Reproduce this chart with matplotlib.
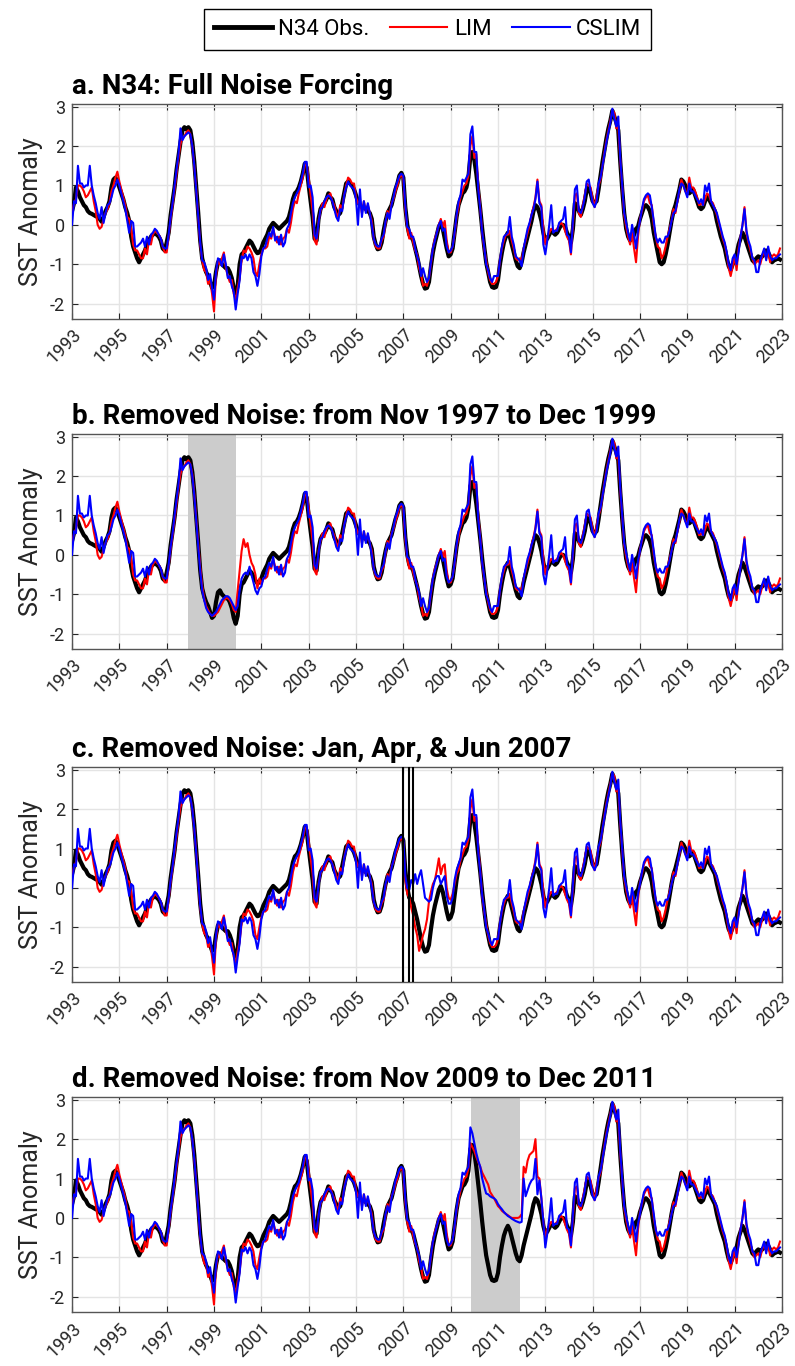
import numpy as np
import matplotlib
matplotlib.use("Agg")
import matplotlib.pyplot as plt
from matplotlib.lines import Line2D

plt.rcParams['font.family'] = ['Roboto', 'DejaVu Sans']

START_YEAR = 1993

# ---------------- Observed Nino3.4 (monthly, one row per year 1993..2022) ----------------
OBS_ROWS = [
    [0.35, 0.55, 0.95, 0.85, 0.70, 0.60, 0.50, 0.45, 0.35, 0.30, 0.28, 0.25],
    [0.22, 0.20, 0.15, 0.08, 0.20, 0.35, 0.45, 0.60, 0.95, 1.15, 1.20, 1.10],
    [0.95, 0.80, 0.65, 0.45, 0.30, 0.10, -0.30, -0.55, -0.70, -0.85, -0.95, -0.85],
    [-0.75, -0.65, -0.50, -0.40, -0.30, -0.25, -0.20, -0.25, -0.30, -0.40, -0.60, -0.65],
    [-0.45, -0.20, 0.25, 0.60, 0.95, 1.40, 1.75, 2.10, 2.40, 2.48, 2.42, 2.48],
    [2.40, 2.10, 1.60, 0.95, 0.30, -0.40, -0.85, -1.05, -1.20, -1.30, -1.45, -1.60],
    [-1.55, -1.20, -0.95, -0.90, -1.00, -1.05, -1.10, -1.10, -1.20, -1.35, -1.60, -1.75],
    [-1.55, -1.00, -0.75, -0.70, -0.60, -0.50, -0.40, -0.45, -0.55, -0.65, -0.72, -0.70],
    [-0.60, -0.45, -0.35, -0.25, -0.10, -0.02, 0.05, 0.00, -0.05, -0.10, -0.05, 0.00],
    [0.05, 0.10, 0.20, 0.40, 0.65, 0.80, 0.85, 0.95, 1.10, 1.30, 1.55, 1.45],
    [1.00, 0.60, 0.20, -0.35, -0.40, 0.15, 0.40, 0.50, 0.55, 0.65, 0.80, 0.70],
    [0.65, 0.45, 0.35, 0.25, 0.30, 0.55, 0.80, 1.05, 1.10, 1.05, 1.00, 0.90],
    [0.75, 0.60, 0.50, 0.45, 0.45, 0.40, 0.35, 0.30, 0.15, -0.30, -0.50, -0.62],
    [-0.60, -0.45, -0.15, 0.10, 0.30, 0.40, 0.50, 0.70, 0.90, 1.05, 1.25, 1.32],
    [1.20, 0.45, 0.00, -0.25, -0.30, -0.40, -0.60, -0.80, -1.05, -1.30, -1.50, -1.62],
    [-1.60, -1.45, -1.05, -0.70, -0.45, -0.25, -0.05, 0.05, -0.10, -0.35, -0.60, -0.80],
    [-0.75, -0.60, -0.20, 0.20, 0.50, 0.65, 0.80, 0.85, 0.95, 1.20, 1.75, 1.85],
    [1.65, 1.30, 0.85, 0.40, -0.10, -0.55, -0.95, -1.20, -1.45, -1.58, -1.60, -1.58],
    [-1.40, -1.00, -0.70, -0.45, -0.30, -0.20, -0.30, -0.50, -0.70, -0.90, -1.05, -1.10],
    [-0.95, -0.70, -0.50, -0.30, -0.10, 0.10, 0.35, 0.50, 0.45, 0.30, 0.10, -0.20],
    [-0.40, -0.35, -0.25, -0.15, -0.20, -0.25, -0.20, -0.10, 0.00, 0.00, -0.05, -0.20],
    [-0.30, -0.45, -0.10, 0.55, 0.50, 0.35, 0.25, 0.40, 0.60, 0.90, 0.95, 0.80],
    [0.60, 0.55, 0.60, 0.90, 1.25, 1.60, 1.90, 2.20, 2.45, 2.65, 2.90, 2.75],
    [2.60, 2.40, 1.60, 0.90, 0.30, -0.10, -0.30, -0.40, -0.35, -0.25, -0.10, -0.05],
    [0.15, 0.30, 0.45, 0.50, 0.45, 0.35, 0.15, -0.20, -0.45, -0.70, -0.95, -1.00],
    [-0.95, -0.75, -0.50, -0.20, 0.10, 0.35, 0.50, 0.70, 0.90, 1.15, 1.10, 1.00],
    [0.90, 0.80, 0.85, 0.90, 0.75, 0.60, 0.45, 0.40, 0.45, 0.60, 0.72, 0.65],
    [0.55, 0.45, 0.35, 0.10, -0.10, -0.30, -0.45, -0.60, -0.85, -1.05, -1.15, -1.00],
    [-0.90, -0.75, -0.50, -0.35, -0.20, -0.30, -0.45, -0.60, -0.75, -0.90, -0.95, -0.85],
    [-0.80, -0.85, -0.80, -0.75, -0.65, -0.70, -0.80, -0.95, -0.90, -0.88, -0.85, -0.88],
]

# ---------------- LIM with full noise forcing ----------------
LIM_ROWS = [
    [0.30, 0.55, 0.65, 1.00, 1.00, 0.95, 0.85, 0.70, 0.75, 0.85, 0.95, 0.60],
    [0.35, 0.00, -0.10, -0.05, 0.15, 0.30, 0.40, 0.55, 0.85, 1.00, 1.20, 1.35],
    [1.10, 0.90, 0.70, 0.50, 0.20, 0.15, -0.10, -0.50, -0.65, -0.65, -0.75, -0.85],
    [-0.85, -0.60, -0.75, -0.40, -0.50, -0.25, -0.15, -0.20, -0.25, -0.35, -0.55, -0.70],
    [-0.70, -0.30, 0.15, 0.50, 0.90, 1.30, 1.70, 2.05, 2.20, 2.25, 2.35, 2.40],
    [2.30, 2.00, 1.50, 0.90, 0.20, -0.50, -0.90, -1.15, -1.20, -1.50, -1.40, -1.75],
    [-2.20, -1.30, -0.90, -1.00, -0.85, -0.70, -1.10, -1.30, -1.45, -1.40, -1.75, -1.90],
    [-1.60, -1.35, -0.90, -0.65, -0.70, -0.55, -0.60, -0.70, -0.85, -1.20, -1.30, -1.00],
    [-0.75, -0.60, -0.60, -0.55, -0.30, -0.35, -0.10, -0.30, -0.45, -0.30, -0.50, -0.35],
    [-0.30, -0.10, -0.20, 0.05, 0.40, 0.60, 0.55, 0.80, 1.00, 1.20, 1.50, 1.55],
    [1.20, 0.75, 0.35, -0.40, -0.50, 0.10, 0.35, 0.55, 0.45, 0.65, 0.75, 0.80],
    [0.60, 0.50, 0.30, 0.20, 0.50, 0.40, 0.75, 1.00, 1.20, 1.15, 1.05, 1.05],
    [0.70, 0.55, 0.60, 0.30, 0.60, 0.35, 0.50, 0.30, 0.10, -0.35, -0.55, -0.60],
    [-0.60, -0.40, -0.30, 0.05, 0.35, 0.25, 0.55, 0.65, 0.85, 1.00, 1.20, 1.28],
    [1.15, 0.40, -0.10, -0.35, -0.20, -0.45, -0.65, -0.75, -1.10, -1.25, -1.55, -1.50],
    [-1.55, -1.35, -1.00, -0.60, -0.35, -0.20, 0.00, 0.15, -0.05, 0.10, -0.40, -0.70],
    [-0.70, -0.55, -0.25, 0.20, 0.45, 0.70, 0.85, 1.00, 1.05, 1.25, 2.00, 2.25],
    [1.70, 1.80, 1.00, 0.45, -0.20, -0.60, -0.90, -1.20, -1.40, -1.50, -1.50, -1.45],
    [-1.30, -0.90, -0.60, -0.40, -0.25, -0.25, -0.15, -0.40, -0.60, -0.85, -0.90, -0.85],
    [-0.90, -0.60, -0.40, -0.20, 0.00, 0.25, 0.45, 0.70, 1.15, 0.60, 0.50, -0.10],
    [-0.50, -0.30, -0.20, -0.10, -0.15, -0.15, -0.10, 0.00, 0.05, 0.00, -0.15, -0.30],
    [-0.40, -0.75, 0.00, 0.75, 0.80, 0.30, 0.20, 0.50, 0.75, 1.05, 1.00, 0.95],
    [0.65, 0.45, 0.75, 1.00, 1.15, 1.50, 1.85, 2.15, 2.40, 2.65, 2.90, 2.85],
    [2.45, 2.50, 1.65, 0.95, 0.25, -0.05, -0.30, -0.50, -0.20, -0.60, -0.95, -0.30],
    [0.15, 0.35, 0.60, 0.70, 0.75, 0.55, 0.50, 0.00, -0.30, -0.55, -0.60, -0.85],
    [-0.75, -0.55, -0.30, -0.10, 0.10, 0.40, 0.30, 0.60, 0.85, 1.15, 1.00, 0.85],
    [0.80, 1.20, 0.95, 0.95, 0.85, 0.70, 0.50, 0.55, 0.50, 0.65, 0.80, 0.75],
    [0.60, 0.55, 0.40, 0.25, 0.05, -0.15, -0.35, -0.50, -0.75, -1.10, -1.30, -1.05],
    [-0.80, -1.15, -0.60, -0.30, 0.00, 0.45, -0.20, -0.45, -0.65, -0.85, -1.00, -0.95],
    [-0.90, -1.00, -0.80, -0.65, -0.85, -0.70, -0.95, -0.80, -0.75, -0.80, -0.75, -0.60],
]

# ---------------- CSLIM with full noise forcing ----------------
CSLIM_ROWS = [
    [0.00, 0.60, 0.55, 1.50, 1.05, 1.05, 0.95, 1.00, 1.00, 1.50, 1.00, 0.75],
    [0.55, 0.30, 0.15, 0.45, 0.05, 0.30, 0.50, 0.55, 0.70, 0.90, 1.00, 1.15],
    [1.00, 0.80, 0.60, 0.40, 0.10, -0.20, 0.10, 0.05, -0.55, -0.55, -0.50, -0.45],
    [-0.35, -0.55, -0.30, -0.50, -0.25, -0.20, -0.10, -0.15, -0.25, -0.35, -0.55, -0.60],
    [-0.60, -0.25, 0.20, 0.55, 1.00, 1.40, 1.80, 2.45, 2.15, 2.25, 2.30, 2.35],
    [2.30, 2.00, 1.50, 0.85, 0.20, -0.45, -0.90, -0.95, -1.10, -1.40, -1.25, -1.60],
    [-1.90, -1.20, -0.85, -0.90, -1.05, -0.75, -1.00, -1.35, -1.30, -1.55, -1.70, -2.15],
    [-1.75, -1.40, -0.80, -0.85, -0.75, -0.90, -0.75, -0.85, -1.20, -1.30, -1.55, -1.25],
    [-0.80, -0.60, -0.55, -0.35, -0.20, -0.30, -0.05, -0.40, -0.30, -0.50, -0.25, -0.55],
    [-0.45, -0.10, 0.00, 0.30, 0.55, 0.70, 0.80, 0.90, 1.10, 1.30, 1.60, 1.60],
    [0.95, 1.00, 0.70, -0.25, -0.35, 0.05, 0.40, 0.45, 0.60, 0.70, 0.75, 0.70],
    [0.60, 0.40, 0.20, 0.10, 0.40, 0.35, 0.75, 0.95, 1.10, 1.00, 0.95, 0.90],
    [0.65, 0.00, 0.90, 0.20, 0.60, 0.30, 0.55, 0.30, 0.00, -0.35, -0.50, -0.55],
    [-0.55, -0.35, -0.25, 0.10, 0.30, 0.15, 0.50, 0.70, 0.95, 1.10, 1.25, 1.30],
    [1.25, 0.50, -0.05, -0.10, -0.30, -0.30, -0.60, -0.80, -0.95, -1.30, -1.10, -1.30],
    [-1.45, -1.35, -0.95, -0.60, -0.40, -0.20, 0.00, 0.10, -0.15, -0.10, -0.55, -0.70],
    [-0.65, -0.55, -0.20, 0.25, 0.60, 0.75, 1.15, 1.10, 1.20, 1.30, 2.30, 2.50],
    [1.85, 1.85, 0.90, 0.40, -0.20, -0.55, -1.00, -1.15, -1.35, -1.45, -1.30, -1.30],
    [-1.30, -0.90, -0.55, -0.30, -0.25, -0.20, 0.20, -0.30, -0.50, -0.80, -0.85, -0.90],
    [-1.05, -0.60, -0.35, -0.10, 0.05, 0.25, 0.40, 0.65, 1.10, 0.55, 0.45, -0.50],
    [-0.75, -0.40, 0.00, 0.50, -0.20, -0.15, -0.15, 0.05, 0.10, 0.15, 0.45, -0.25],
    [-0.30, -0.70, 0.10, 0.90, 1.00, 0.35, 0.30, 0.45, 0.70, 1.10, 1.15, 0.85],
    [0.55, 0.45, 0.60, 1.05, 1.20, 1.50, 1.80, 2.10, 2.35, 2.60, 2.95, 2.70],
    [2.50, 2.75, 1.70, 1.00, 0.30, 0.05, -0.20, -0.40, 0.00, -0.25, -0.60, -0.15],
    [0.10, 0.40, 0.65, 0.75, 0.80, 0.75, 0.45, 0.10, -0.30, -0.45, -0.35, -0.45],
    [-0.45, -0.30, -0.30, -0.15, 0.10, 0.30, 0.35, 0.60, 0.90, 1.05, 1.00, 0.85],
    [0.70, 1.05, 0.85, 0.85, 0.75, 0.65, 0.55, 0.65, 0.50, 1.00, 0.85, 1.05],
    [0.60, 0.50, 0.40, 0.30, 0.10, -0.10, -0.30, -0.45, -0.70, -1.00, -1.15, -0.85],
    [-0.75, -1.00, -0.70, -0.30, 0.00, 0.40, -0.15, -0.40, -0.55, -0.85, -0.90, -1.20],
    [-1.20, -0.90, -0.75, -0.60, -0.90, -0.55, -0.80, -0.90, -0.85, -0.85, -0.80, -0.75],
]

# ---------------- Experiments: model runs where noise was removed ----------------
# b: noise removed Nov 1997 - Dec 1999 (values from Nov 1997 to Dec 2000)
LIM_B = [2.35, 2.40,
         2.30, 2.05, 1.55, 0.90, 0.30, -0.30, -0.80, -1.10, -1.30, -1.40, -1.50, -1.55,
         -1.55, -1.50, -1.45, -1.35, -1.25, -1.15, -1.10, -1.10, -1.15, -1.25, -1.40, -1.45,
         -0.90, -0.40, 0.10, 0.40, 0.20, 0.30, 0.00, -0.20, -0.30, -0.50, -0.85, -0.60]
CSLIM_B = [2.30, 2.35,
           2.30, 2.00, 1.50, 0.85, 0.20, -0.40, -0.90, -1.15, -1.35, -1.45, -1.50, -1.55,
           -1.50, -1.45, -1.35, -1.25, -1.15, -1.10, -1.05, -1.05, -1.10, -1.20, -1.30, -1.40,
           -1.30, -0.90, -0.60, -0.50, -0.45, -0.50, -0.30, -0.50, -0.70, -0.90, -1.00, -0.85]
# c: noise removed Jan, Apr, Jun 2007 (values from Jan 2007 to Apr 2009)
LIM_C = [1.15, 0.20, -0.15, -0.25, -0.50, -0.70, -1.00, -1.20, -1.60, -1.40, -1.20, -1.05,
         -0.80, -0.35, -0.10, 0.10, 0.20, 0.45, 0.75, 0.35, 0.55, 0.60, 0.00, -0.25,
         -0.30, -0.15, 0.10, 0.35]
CSLIM_C = [1.25, 0.30, 0.00, -0.05, 0.20, 0.10, 0.35, 0.10, 0.30, 0.45, 0.10, -0.25,
           -0.30, -0.35, -0.30, 0.00, 0.20, 0.30, 0.30, 0.10, 0.20, 0.30, -0.20, -0.40,
           -0.40, -0.25, 0.20, 0.45]
# d: noise removed Nov 2009 - Dec 2011 (values from Nov 2009 to Dec 2012)
LIM_D = [1.90, 1.80,
         1.70, 1.55, 1.42, 1.30, 1.15, 1.05, 0.95, 0.85, 0.66, 0.58, 0.50, 0.40,
         0.30, 0.25, 0.18, 0.14, 0.10, 0.07, 0.03, 0.00, 0.00, 0.00, 0.00, 0.02,
         0.10, 1.30, 1.15, 1.45, 1.60, 1.65, 1.70, 2.00, 1.05, 1.00, 0.50, -0.10]
CSLIM_D = [2.30, 2.15,
           1.90, 1.65, 1.45, 1.30, 1.00, 0.80, 0.62, 0.60, 0.55, 0.52, 0.50, 0.45,
           0.35, 0.28, 0.22, 0.15, 0.10, 0.05, 0.02, -0.02, -0.05, -0.08, -0.10, -0.12,
           -0.10, 1.00, 0.55, 0.70, 0.85, 0.95, 1.00, 1.50, 0.60, 0.95, 0.50, -0.10]

SHADE_B = (1997.92, 1999.92)
SHADE_D = (2009.88, 2011.92)
VLINES_C = [2007 + 0 / 12, 2007 + 3 / 12, 2007 + 5 / 12]

TITLES = ['a. N34: Full Noise Forcing',
          'b. Removed Noise: from Nov 1997 to Dec 1999',
          'c. Removed Noise: Jan, Apr, & Jun 2007',
          'd. Removed Noise: from Nov 2009 to Dec 2011']
XTICKS = list(range(1993, 2024, 2))
YTICKS = [-2, -1, 0, 1, 2, 3]

obs = np.ravel(OBS_ROWS)
lim = np.ravel(LIM_ROWS)
cslim = np.ravel(CSLIM_ROWS)
t = START_YEAR + np.arange(obs.size) / 12.0


def with_segment(base, seg, year, month):
    out = np.array(base, dtype=float).copy()
    i = (year - START_YEAR) * 12 + (month - 1)
    out[i:i + len(seg)] = seg
    return out


panels = [
    dict(lim=lim, cslim=cslim),
    dict(lim=with_segment(lim, LIM_B, 1997, 11), cslim=with_segment(cslim, CSLIM_B, 1997, 11), span=SHADE_B),
    dict(lim=with_segment(lim, LIM_C, 2007, 1), cslim=with_segment(cslim, CSLIM_C, 2007, 1), vlines=VLINES_C),
    dict(lim=with_segment(lim, LIM_D, 2009, 11), cslim=with_segment(cslim, CSLIM_D, 2009, 11), span=SHADE_D),
]

fig = plt.figure(figsize=(7.95, 13.66), dpi=100)
bottoms = [0.7665, 0.5249, 0.2811, 0.0395]
TXT = '#262626'
for k, (p, title, b) in enumerate(zip(panels, TITLES, bottoms)):
    ax = fig.add_axes([0.0906, b, 0.893, 0.1574])
    ax.grid(True, color='#e4e4e4', lw=1.0)
    ax.set_axisbelow(True)
    if 'span' in p:
        ax.axvspan(p['span'][0], p['span'][1], color='#cccccc', lw=0, zorder=1)
    ax.plot(t, obs, color='black', lw=3.0, zorder=3, solid_joinstyle='round')
    ax.plot(t, p['lim'], color='#ff0000', lw=1.5, zorder=4)
    ax.plot(t, p['cslim'], color='#0000ff', lw=1.5, zorder=5)
    for x in p.get('vlines', []):
        ax.axvline(x, color='black', lw=1.5, zorder=6)
    ax.set_xlim(1993, 2023)
    ax.set_ylim(-2.39, 3.07)
    ax.set_xticks(XTICKS)
    ax.set_xticklabels([str(v) for v in XTICKS], rotation=45, ha='right', va='top',
                       rotation_mode='anchor')
    ax.set_yticks(YTICKS)
    ax.set_yticklabels([str(v) for v in YTICKS])
    ax.tick_params(direction='in', top=True, right=True, length=4, width=0.8,
                   labelsize=13, colors=TXT, pad=5)
    for sp in ax.spines.values():
        sp.set_color('#555555')
        sp.set_linewidth(1.0)
    ax.set_ylabel('SST Anomaly', fontsize=18, color=TXT, labelpad=5)
    ax.set_title(title, loc='left', fontweight='bold', fontsize=20, pad=7, color='black')

handles = [Line2D([], [], color='black', lw=3.5),
           Line2D([], [], color='#ff0000', lw=1.5),
           Line2D([], [], color='#0000ff', lw=1.5)]
leg = fig.legend(handles, ['N34 Obs.', 'LIM', 'CSLIM'], loc='center',
                 bbox_to_anchor=(0.538, 0.9784), ncol=3, fontsize=16, frameon=True,
                 fancybox=False, edgecolor='black', framealpha=1, handlelength=2.6,
                 columnspacing=0.9, handletextpad=0.3, borderpad=0.45)
leg.get_frame().set_linewidth(1.0)

fig.savefig('out.png', dpi=100)
